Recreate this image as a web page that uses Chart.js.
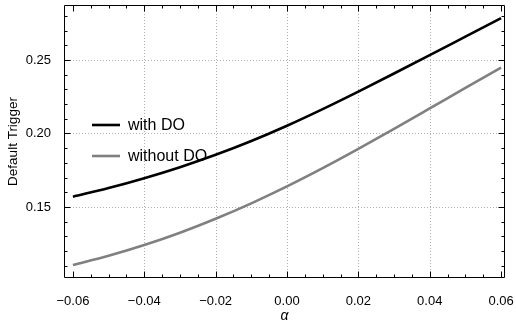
<!DOCTYPE html>
<html>
<head>
<meta charset="utf-8">
<script src="https://cdn.jsdelivr.net/npm/chart.js@4.4.1/dist/chart.umd.min.js"></script>
<style>
  html, body { margin: 0; padding: 0; background: #fff; }
</style>
</head>
<body>
<canvas id="chart" width="516" height="329"></canvas>
<script>
// default trigger against alpha, with and without the DO feature
const alphas    = [-0.06, -0.05, -0.04, -0.03, -0.02, -0.01, 0, 0.01, 0.02, 0.03, 0.04, 0.05, 0.06];
const withDO    = [0.157, 0.1629, 0.1696, 0.1771, 0.1855, 0.1949, 0.2053, 0.2166, 0.2285, 0.2408, 0.2533, 0.2659, 0.2785];
const withoutDO = [0.1105, 0.1168, 0.1241, 0.1325, 0.142, 0.1525, 0.164, 0.1764, 0.1895, 0.2031, 0.217, 0.231, 0.2448];

const xTicks = [-0.06, -0.04, -0.02, 0, 0.02, 0.04, 0.06];
const yTicks = [0.15, 0.20, 0.25];
const xGrid  = [-0.04, -0.02, 0, 0.02, 0.04];
const yGrid  = [0.15, 0.20, 0.25];

const FONT = "'Liberation Sans', Arial, sans-serif";

function minorTicks(from, to, step) {
   let out = [];
   let n = Math.round((to - from) / step);
   for (let i = 0; i <= n; i++) out.push(from + i * step);
   return out;
}
const xMinor = minorTicks(-0.06, 0.06, 0.005);
const yMinor = minorTicks(0.11, 0.28, 0.01);

function fmt(v) {
   let s = Math.abs(v).toFixed(2);
   return v < -1e-9 ? '\u2212' + s : s;
}

// dotted grid under the curves, frame with inward ticks and the legend on top
const framePlugin = {
   id: 'frame',
   beforeDatasetsDraw(chart) {
      const {ctx, chartArea: a, scales: {x, y}} = chart;
      ctx.save();
      ctx.strokeStyle = '#b0b0b0';
      ctx.lineWidth = 1;
      ctx.setLineDash([1, 2]);
      ctx.beginPath();
      for (const v of xGrid) {
         let px = Math.round(x.getPixelForValue(v)) + 0.5;
         ctx.moveTo(px, a.top); ctx.lineTo(px, a.bottom);
      }
      for (const v of yGrid) {
         let py = Math.round(y.getPixelForValue(v)) + 0.5;
         ctx.moveTo(a.left, py); ctx.lineTo(a.right, py);
      }
      ctx.stroke();
      ctx.restore();
   },
   afterDatasetsDraw(chart) {
      const {ctx, chartArea: a, scales: {x, y}} = chart;
      const l = Math.round(a.left) + 0.5, r = Math.round(a.right) - 0.5;
      const t = Math.round(a.top) + 0.5, b = Math.round(a.bottom) - 0.5;
      ctx.save();
      ctx.strokeStyle = '#000';
      ctx.lineWidth = 1;
      ctx.beginPath();
      ctx.rect(l, t, r - l, b - t);
      for (const v of xMinor) {
         let major = xTicks.some(m => Math.abs(m - v) < 1e-9);
         let len = major ? 6 : 3;
         let px = Math.round(x.getPixelForValue(v)) + 0.5;
         ctx.moveTo(px, b); ctx.lineTo(px, b - len);
         ctx.moveTo(px, t); ctx.lineTo(px, t + len);
      }
      for (const v of yMinor) {
         let major = yTicks.some(m => Math.abs(m - v) < 1e-9);
         let len = major ? 6 : 3;
         let py = Math.round(y.getPixelForValue(v)) + 0.5;
         ctx.moveTo(l, py); ctx.lineTo(l + len, py);
         ctx.moveTo(r, py); ctx.lineTo(r - len, py);
      }
      ctx.stroke();

      // legend
      ctx.font = '16px ' + FONT;
      ctx.textBaseline = 'middle';
      ctx.fillStyle = '#000';
      chart.data.datasets.forEach((ds, i) => {
         let ly = a.top + 120 + i * 31;
         ctx.strokeStyle = ds.borderColor;
         ctx.lineWidth = ds.borderWidth;
         ctx.beginPath();
         ctx.moveTo(a.left + 28, ly); ctx.lineTo(a.left + 56, ly);
         ctx.stroke();
         ctx.fillText(ds.label, a.left + 64, ly + 1);
      });
      ctx.restore();
   }
};

new Chart(document.getElementById('chart'), {
   type: 'line',
   data: {
      labels: alphas,
      datasets: [
         { label: 'with DO', data: withDO, borderColor: '#000000', borderWidth: 2.6 },
         { label: 'without DO', data: withoutDO, borderColor: '#808080', borderWidth: 2.6 }
      ]
   },
   options: {
      responsive: false,
      animation: false,
      layout: { padding: { top: 5, right: 11, left: 0, bottom: 0 } },
      elements: {
         point: { radius: 0 },
         line: { cubicInterpolationMode: 'monotone', fill: false }
      },
      plugins: { legend: { display: false }, tooltip: { enabled: false } },
      scales: {
         x: {
            type: 'linear',
            min: -0.0625,
            max: 0.0611,
            afterBuildTicks: axis => { axis.ticks = xTicks.map(v => ({ value: v })); },
            afterFit: scale => { scale.height = 51; scale.paddingLeft = 0; scale.paddingRight = 0; },
            grid: { display: false },
            border: { display: false },
            ticks: { color: '#000', font: { family: FONT, size: 13 }, padding: 8, maxRotation: 0, autoSkip: false, callback: v => fmt(v) },
            title: { display: true, text: '\u03b1', color: '#000', font: { family: FONT, size: 14, style: 'italic' }, padding: { top: 0, bottom: 4 } }
         },
         y: {
            min: 0.1017,
            max: 0.2874,
            afterBuildTicks: axis => { axis.ticks = yTicks.map(v => ({ value: v })); },
            afterFit: scale => { scale.width = 64; scale.paddingTop = 0; scale.paddingBottom = 0; },
            grid: { display: false },
            border: { display: false },
            ticks: { color: '#000', font: { family: FONT, size: 13 }, padding: 5, callback: v => fmt(v) },
            title: { display: true, text: 'Default Trigger', color: '#000', font: { family: FONT, size: 13.5 }, padding: { top: 5, bottom: 0 } }
         }
      }
   },
   plugins: [framePlugin]
});
</script>
</body>
</html>
